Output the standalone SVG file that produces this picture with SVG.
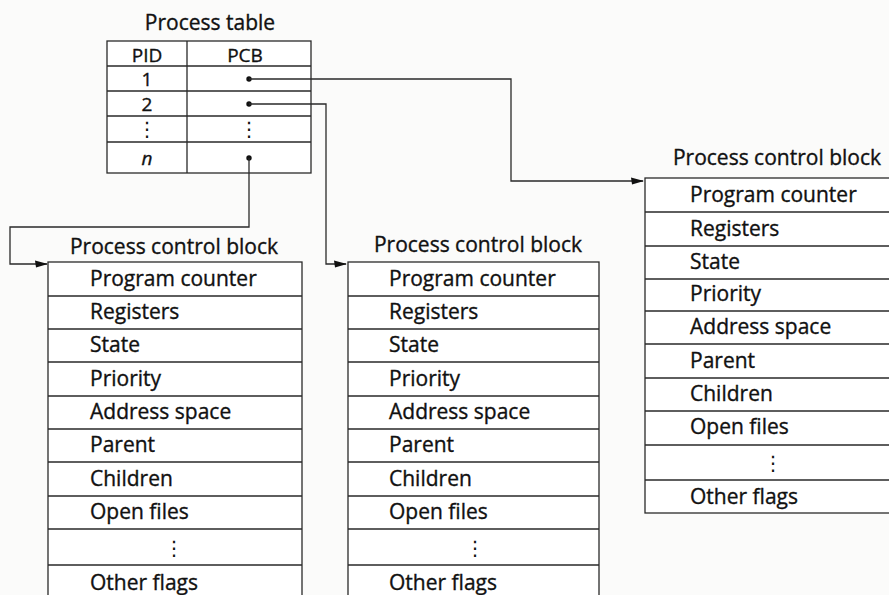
<svg xmlns="http://www.w3.org/2000/svg" width="889" height="595" viewBox="0 0 889 595">
<defs>
<style>
.ln{stroke:#2a2a2a;stroke-width:1.3;fill:none}
.bx{stroke:#2a2a2a;stroke-width:1.3;fill:#ffffff}
.t{font-family:"Open Sans","Liberation Sans",sans-serif;font-size:21px;fill:#111;stroke:#111;stroke-width:0.35}
.ts{font-size:19px}
.tc{text-anchor:middle}
.dots{font-family:"DejaVu Sans",sans-serif;font-size:20px;fill:#111;text-anchor:middle}
.cn{stroke:#2a2a2a;stroke-width:1.3;fill:none}
</style>
<marker id="ah" markerWidth="13" markerHeight="9" refX="12" refY="4.5" orient="auto" markerUnits="userSpaceOnUse">
<path d="M0,1 L13,4.5 L1,8 Z" fill="#111"/>
</marker>
</defs>
<rect width="889" height="595" fill="#fbfbfa"/>

<g id="process-table">
<text class="t tc" x="210" y="30">Process table</text>
<rect class="bx" x="107" y="41" width="204" height="132"/>
<path class="ln" d="M187,41V173M107,66H311M107,91H311M107,116H311M107,142H311"/>
<text class="t ts tc" x="147" y="62">PID</text>
<text class="t ts tc" x="245" y="62">PCB</text>
<text class="t ts tc" x="147" y="86">1</text>
<text class="t ts tc" x="147" y="111">2</text>
<text class="dots" x="147" y="136">⋮</text>
<text class="dots" x="249" y="136">⋮</text>
<text class="t ts tc" x="147" y="165" font-style="italic">n</text>
<circle cx="249" cy="79" r="2.7" fill="#111"/>
<circle cx="249" cy="104" r="2.7" fill="#111"/>
<circle cx="249" cy="158" r="2.7" fill="#111"/>
</g>

<g id="connectors">
<path class="cn" d="M249,79H511V181H643" marker-end="url(#ah)"/>
<path class="cn" d="M249,104H326V264H346" marker-end="url(#ah)"/>
<path class="cn" d="M249,158V227H10V264H47" marker-end="url(#ah)"/>
</g>

<g id="pcb-left">
<text class="t tc" x="174" y="254">Process control block</text>
<rect class="bx" x="48" y="262" width="254" height="340"/>
<path class="ln" d="M48,296H302M48,329H302M48,362H302M48,396H302M48,429H302M48,462H302M48,496H302M48,529H302M48,565H302"/>
<text class="t" x="90" y="286">Program counter</text>
<text class="t" x="90" y="319">Registers</text>
<text class="t" x="90" y="352">State</text>
<text class="t" x="90" y="386">Priority</text>
<text class="t" x="90" y="419">Address space</text>
<text class="t" x="90" y="452">Parent</text>
<text class="t" x="90" y="486">Children</text>
<text class="t" x="90" y="519">Open files</text>
<text class="dots" x="174" y="555">⋮</text>
<text class="t" x="90" y="590">Other flags</text>
</g>

<g id="pcb-middle">
<text class="t tc" x="478" y="252">Process control block</text>
<rect class="bx" x="348" y="262" width="251" height="340"/>
<path class="ln" d="M348,296H599M348,329H599M348,362H599M348,396H599M348,429H599M348,462H599M348,496H599M348,529H599M348,565H599"/>
<text class="t" x="389" y="286">Program counter</text>
<text class="t" x="389" y="319">Registers</text>
<text class="t" x="389" y="352">State</text>
<text class="t" x="389" y="386">Priority</text>
<text class="t" x="389" y="419">Address space</text>
<text class="t" x="389" y="452">Parent</text>
<text class="t" x="389" y="486">Children</text>
<text class="t" x="389" y="519">Open files</text>
<text class="dots" x="475" y="555">⋮</text>
<text class="t" x="389" y="590">Other flags</text>
</g>

<g id="pcb-right">
<text class="t tc" x="777" y="165">Process control block</text>
<rect class="bx" x="645" y="178" width="260" height="335"/>
<path class="ln" d="M645,212H905M645,246H905M645,279H905M645,311H905M645,344H905M645,378H905M645,411H905M645,445H905M645,480H905"/>
<text class="t" x="690" y="202">Program counter</text>
<text class="t" x="690" y="236">Registers</text>
<text class="t" x="690" y="269">State</text>
<text class="t" x="690" y="301">Priority</text>
<text class="t" x="690" y="334">Address space</text>
<text class="t" x="690" y="368">Parent</text>
<text class="t" x="690" y="401">Children</text>
<text class="t" x="690" y="434">Open files</text>
<text class="dots" x="773" y="470">⋮</text>
<text class="t" x="690" y="504">Other flags</text>
</g>
</svg>
